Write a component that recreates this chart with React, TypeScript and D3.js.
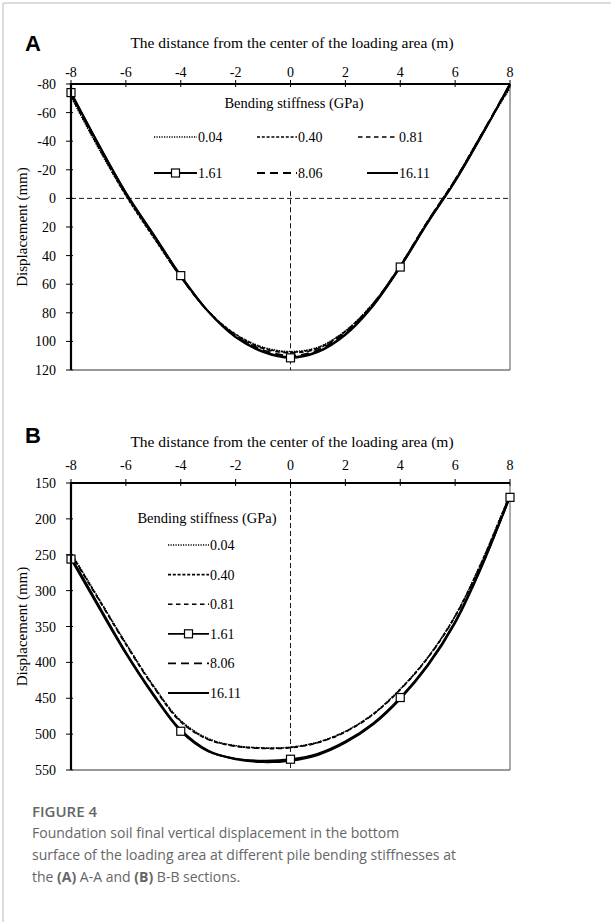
import React from "react";
import * as d3 from "d3";

// ---------- data ----------
const stiffnessLabels = ["0.04", "0.40", "0.81", "1.61", "8.06", "16.11"];
const distance = [-8, -7, -6, -5, -4, -3, -2, -1, 0, 1, 2, 3, 4, 5, 6, 7, 8];
const xTicks = [-8, -6, -4, -2, 0, 2, 4, 6, 8];
const yTicksA = [-80, -60, -40, -20, 0, 20, 40, 60, 80, 100, 120];
const yTicksB = [150, 200, 250, 300, 350, 400, 450, 500, 550];
const markerXA = [-8, -4, 0, 4];
const markerXB = [-8, -4, 0, 4, 8];

// Panel A (A-A section), displacement in mm
const a004 = [-71, -35, -2, 27, 55, 79, 95, 104, 107, 104, 92.5, 73.5, 47, 16, -13, -46, -77];
const a040 = [-72, -36, -2, 27, 55, 79, 95, 104.5, 107.5, 104.5, 93, 74, 47, 16, -13, -46, -78];
const a081 = [-72, -36, -3, 26, 55, 79, 96, 105, 108, 105, 93, 74, 47, 16, -13, -46, -79];
const a161 = [-74, -38, -4, 25, 54, 79, 97, 107.5, 111.5, 107.5, 95.5, 75.5, 48, 17, -12, -45, -80];
const a806 = [-73, -37, -3, 26, 55, 79, 96, 106, 110, 106, 94, 74, 47, 16, -13, -46, -80];
const a1611 = [-74, -38, -4, 25, 54, 79, 97, 107, 111, 107, 95, 75, 48, 17, -12, -45, -80];

// Panel B (B-B section)
const b004 = [247, 310, 373, 432, 481, 506, 516, 519, 518, 511, 496, 472, 437, 393, 335, 257, 165];
const b040 = [248, 311, 374, 433, 482, 507, 516.5, 519.5, 518.5, 511.5, 496.5, 472.5, 437.5, 393.5, 335.5, 257.5, 165.5];
const b081 = [249, 312, 375, 434, 483, 507.5, 517, 520, 519, 512, 497, 473, 438, 394, 336, 258, 166];
const b161 = [256, 323, 388, 446, 496, 524, 534, 537, 535, 527, 510, 485, 449, 403, 343, 262, 170];
const b806 = [254, 321, 387, 445, 495, 523.5, 534.5, 538, 536, 528, 511, 486, 450, 404, 344, 263, 169];
const b1611 = [253, 320, 386, 444, 494, 523, 535, 539, 537, 529, 512, 487, 451, 405, 345, 264, 168];

const seriesA = [a004, a040, a081, a161, a806, a1611];
const seriesB = [b004, b040, b081, b161, b806, b1611];

// ---------- styles ----------
const dashes = ["1.2,1.3", "3,1.8", "4.5,3.5", "", "8,5", ""];
const widths = [1.4, 1.6, 1.6, 1.8, 1.8, 2];

const W = 611;
const H = 922;
const X0 = 71;
const X1 = 510;
const SERIF = "'Liberation Serif', 'Times New Roman', serif";
const SANS = "'Liberation Sans', Arial, sans-serif";

const x = d3.scaleLinear().domain([-8, 8]).range([X0, X1]);

function Marker({ cx, cy }: { cx: number; cy: number }) {
  return <rect x={cx - 4} y={cy - 4} width={8} height={8} fill="#fff" stroke="#000" strokeWidth={1.2} />;
}

function LegendLine({ i, x1, x2, y }: { i: number; x1: number; x2: number; y: number }) {
  return (
    <g>
      <line x1={x1} x2={x2} y1={y} y2={y} stroke="#000" strokeWidth={widths[i]} strokeDasharray={dashes[i] || undefined} />
      {i === 3 && <Marker cx={(x1 + x2) / 2} cy={y} />}
    </g>
  );
}

function Panel({
  id, letter, top, bottom, domain, yTicks, series, markerX, titleY, tickLabelY, letterY, legend, zeroLine, vStart,
}: any) {
  const y = d3.scaleLinear().domain(domain).range([top, bottom]);
  const line = d3
    .line<number>()
    .x((_, k) => x(distance[k]))
    .y((d) => y(d))
    .curve(d3.curveCatmullRom.alpha(0.5));
  const mid = (top + bottom) / 2;
  return (
    <g>
      <defs>
        <clipPath id={`clip-${id}`}>
          <rect x={X0} y={top - 1} width={X1 - X0 + 1} height={bottom - top + 2} />
        </clipPath>
      </defs>
      <text x={33} y={letterY} fontFamily={SANS} fontWeight="bold" fontSize={22} textAnchor="middle">{letter}</text>
      <text x={292} y={titleY} fontFamily={SERIF} fontSize={15.5} textAnchor="middle">
        The distance from the center of the loading area (m)
      </text>
      {xTicks.map((t: number) => (
        <g key={t}>
          <text x={x(t)} y={tickLabelY} fontFamily={SERIF} fontSize={14} textAnchor="middle">{t}</text>
          <line x1={x(t)} x2={x(t)} y1={top - 4} y2={top + 3} stroke="#000" strokeWidth={1} />
        </g>
      ))}
      {yTicks.map((t: number) => (
        <g key={t}>
          <text x={56} y={y(t) + 5} fontFamily={SERIF} fontSize={14} textAnchor="end">{t}</text>
          <line x1={X0 - 5} x2={X0 + 2} y1={y(t)} y2={y(t)} stroke="#000" strokeWidth={1} />
        </g>
      ))}
      <text
        transform={`translate(27,${mid}) rotate(-90)`}
        fontFamily={SERIF}
        fontSize={15}
        textAnchor="middle"
      >
        Displacement (mm)
      </text>
      {/* frame */}
      <line x1={X1} x2={X1} y1={top} y2={bottom} stroke="#555" strokeWidth={1} />
      <line x1={X0} x2={X1} y1={bottom} y2={bottom} stroke="#333" strokeWidth={1} />
      {/* reference lines */}
      {zeroLine && (
        <line x1={X0} x2={X1} y1={y(0)} y2={y(0)} stroke="#000" strokeWidth={0.9} strokeDasharray="5,3" />
      )}
      <line x1={x(0)} x2={x(0)} y1={y(vStart)} y2={bottom} stroke="#000" strokeWidth={0.9} strokeDasharray="5,3" />
      {/* series */}
      <g clipPath={`url(#clip-${id})`}>
        {series.map((s: number[], i: number) => (
          <path
            key={i}
            d={line(s) || ""}
            fill="none"
            stroke="#000"
            strokeWidth={widths[i]}
            strokeDasharray={dashes[i] || undefined}
          />
        ))}
      </g>
      {markerX.map((mx: number) => (
        <Marker key={mx} cx={x(mx)} cy={y(series[3][distance.indexOf(mx)])} />
      ))}
      <line x1={X0} x2={X1} y1={top} y2={top} stroke="#000" strokeWidth={2.2} />
      <line x1={X0} x2={X0} y1={top - 1} y2={bottom} stroke="#000" strokeWidth={2.2} />
      {legend}
    </g>
  );
}

export default function App() {
  const legendA = (
    <g fontFamily={SERIF} fontSize={14}>
      <text x={294} y={108} textAnchor="middle" fontSize={14.5}>Bending stiffness (GPa)</text>
      {[0, 1, 2, 3, 4, 5].map((i) => {
        const col = i % 3;
        const row = Math.floor(i / 3);
        const cy = row === 0 ? 137 : 173;
        const x1 = [154, 257, 358][col] + (i === 5 ? 9 : 0);
        const x2 = [197, 297, 398][col];
        return (
          <g key={i}>
            <LegendLine i={i} x1={x1} x2={x2} y={cy} />
            <text x={x2 + 1} y={cy + 5}>{stiffnessLabels[i]}</text>
          </g>
        );
      })}
    </g>
  );
  const legendB = (
    <g fontFamily={SERIF} fontSize={14}>
      <text x={207} y={523} textAnchor="middle" fontSize={14.5}>Bending stiffness (GPa)</text>
      {[0, 1, 2, 3, 4, 5].map((i) => {
        const cy = 545 + i * 29.6;
        return (
          <g key={i}>
            <LegendLine i={i} x1={168} x2={209} y={cy} />
            <text x={210} y={cy + 5}>{stiffnessLabels[i]}</text>
          </g>
        );
      })}
    </g>
  );
  return (
    <div style={{ position: "absolute", left: 0, top: 0, width: W, height: H, background: "#fff" }}>
      <svg width={W} height={H} viewBox={`0 0 ${W} ${H}`} style={{ display: "block" }}>
        <rect x={0} y={0} width={W} height={H} fill="#fff" />
        <line x1={3} x2={W} y1={3} y2={3} stroke="#d0d0d0" strokeWidth={1.5} />
        <line x1={3} x2={3} y1={3} y2={H} stroke="#d0d0d0" strokeWidth={1.5} />
        <Panel
          id="a"
          letter="A"
          top={84}
          bottom={370}
          domain={[-80, 120]}
          yTicks={yTicksA}
          series={seriesA}
          markerX={markerXA}
          titleY={48}
          tickLabelY={77}
          letterY={51}
          legend={legendA}
          zeroLine={true}
          vStart={-5}
        />
        <Panel
          id="b"
          letter="B"
          top={483}
          bottom={770}
          domain={[150, 550]}
          yTicks={yTicksB}
          series={seriesB}
          markerX={markerXB}
          titleY={447}
          tickLabelY={470}
          letterY={443}
          legend={legendB}
          zeroLine={false}
          vStart={150}
        />
        <g fontFamily="'Open Sans', 'Noto Sans', sans-serif" fill="#666">
          <text x={32} y={817} fontSize={15} fontWeight={600}>FIGURE 4</text>
          <text x={32} y={838} fontSize={14}>Foundation soil final vertical displacement in the bottom</text>
          <text x={32} y={860} fontSize={14}>surface of the loading area at different pile bending stiffnesses at</text>
          <text x={32} y={882} fontSize={14}>
            the <tspan fontWeight={700}>(A)</tspan> A-A and <tspan fontWeight={700}>(B)</tspan> B-B sections.
          </text>
        </g>
      </svg>
    </div>
  );
}
